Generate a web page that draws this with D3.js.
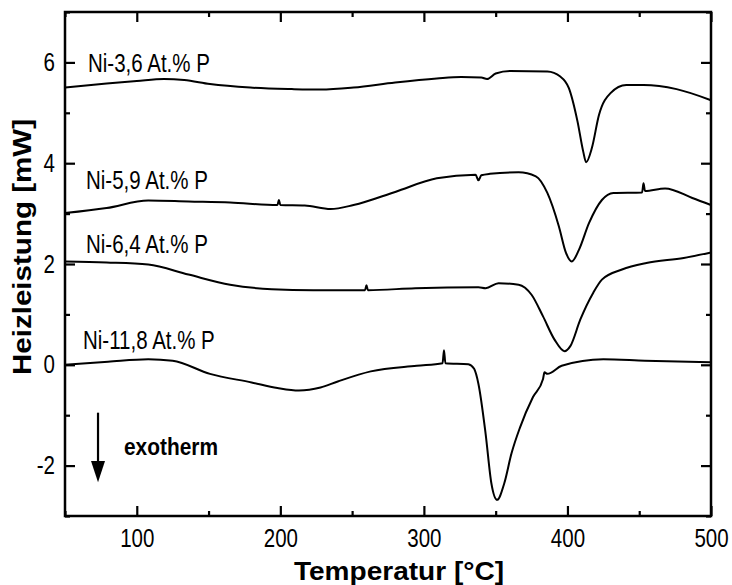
<!DOCTYPE html>
<html lang="de">
<head>
<meta charset="UTF-8">
<title>DSC</title>
<script src="https://d3js.org/d3.v7.min.js"></script>
<style>
  body { margin: 0; background: #fff; }
  svg text { font-family: "Liberation Sans", Arial, sans-serif; fill: #000; }
</style>
</head>
<body>
<div id="chart"></div>
<script>
// DSC-Kurven, [Temperatur °C, Heizleistung mW]
const ni36 = [[50,5.50],[79,5.58],[100,5.63],[119,5.67],[133,5.65],[151,5.57],[179,5.50],[208,5.47],[228,5.46],[251,5.50],[280,5.60],[309,5.68],[326,5.71],[340,5.70],[344,5.67],[350,5.78],[360,5.83],[386,5.82],[395,5.72],[401,5.49],[407,4.83],[411,4.23],[413,4.02],[417,4.30],[422,4.96],[430,5.39],[441,5.55],[453,5.55],[476,5.47],[500,5.25]];
const ni59 = [[50,3.01],[79,3.11],[108,3.26],[136,3.24],[165,3.22],[198,3.17],[199,3.27],[200,3.17],[217,3.16],[235,3.09],[251,3.17],[280,3.43],[309,3.70],[336,3.77],[338,3.66],[340,3.76],[346,3.79],[366,3.82],[378,3.74],[386,3.41],[394,2.75],[399,2.22],[403,2.05],[408,2.28],[415,2.81],[424,3.27],[432,3.41],[452,3.42],[453,3.60],[454,3.45],[468,3.50],[487,3.31],[500,3.17]];
const ni64 = [[50,2.05],[79,2.03],[108,1.99],[136,1.79],[165,1.59],[194,1.50],[223,1.48],[259,1.48],[260,1.58],[261,1.48],[294,1.52],[338,1.54],[343,1.52],[352,1.62],[366,1.59],[375,1.39],[383,0.96],[391,0.50],[398,0.27],[402,0.37],[409,0.90],[418,1.43],[424,1.69],[438,1.89],[455,2.02],[481,2.12],[500,2.23]];
const ni118 = [[50,0.00],[80,0.06],[108,0.11],[125,0.08],[151,-0.18],[180,-0.35],[198,-0.46],[213,-0.51],[228,-0.45],[240,-0.33],[263,-0.13],[295,-0.02],[313,0.03],[314,0.29],[315,0.03],[331,0.01],[335,-0.08],[338,-0.38],[343,-1.37],[347,-2.35],[351,-2.68],[356,-2.35],[361,-1.76],[367,-1.24],[376,-0.64],[383,-0.28],[384,-0.15],[386,-0.18],[396,-0.02],[425,0.11],[454,0.08],[500,0.05]];

const series = [ni36, ni59, ni64, ni118];
const seriesNames = ["Ni-3,6 At.% P", "Ni-5,9 At.% P", "Ni-6,4 At.% P", "Ni-11,8 At.% P"];
const xMajor = [100, 200, 300, 400, 500];
const xMinor = [50, 150, 250, 350, 450];
const yMajor = [-2, 0, 2, 4, 6];
const yMinor = [-3, -1, 1, 3, 5, 7];

const W = 732, H = 585;
const pLeft = 65, pRight = 711, pTop = 12, pBottom = 516;

const svg = d3.select("#chart").append("svg")
  .attr("width", W).attr("height", H);

const x = d3.scaleLinear().domain([50, 500]).range([pLeft, pRight]);
const y = d3.scaleLinear().domain([-3, 7]).range([pBottom, pTop]);

// curves
const line = d3.line()
  .x(d => x(d[0]))
  .y(d => y(d[1]))
  .curve(d3.curveMonotoneX);

svg.selectAll("path.curve")
  .data(series)
  .join("path")
  .attr("class", "curve")
  .attr("fill", "none")
  .attr("stroke", "#000")
  .attr("stroke-width", 2)
  .attr("stroke-linejoin", "round")
  .attr("d", line);

// axes (ticks inward)
function styleAxis(g) {
  g.select(".domain").remove();
  g.selectAll(".tick line").attr("stroke", "#000").attr("stroke-width", 2.2);
  g.selectAll(".tick text").attr("class", "narrow").style("font-size", "25px");
}
const plain = d => String(d);  // hyphen minus like the original

svg.append("g").attr("transform", `translate(0,${pBottom})`)
  .call(d3.axisBottom(x).tickValues(xMajor).tickSize(-10).tickPadding(13).tickFormat(plain))
  .call(styleAxis);
svg.append("g").attr("transform", `translate(0,${pBottom})`)
  .call(d3.axisBottom(x).tickValues(xMinor).tickSize(-5).tickFormat(""))
  .call(styleAxis);
svg.append("g").attr("transform", `translate(0,${pTop})`)
  .call(d3.axisTop(x).tickValues(xMajor).tickSize(-10).tickFormat(""))
  .call(styleAxis);
svg.append("g").attr("transform", `translate(0,${pTop})`)
  .call(d3.axisTop(x).tickValues(xMinor).tickSize(-5).tickFormat(""))
  .call(styleAxis);

svg.append("g").attr("transform", `translate(${pLeft},0)`)
  .call(d3.axisLeft(y).tickValues(yMajor).tickSize(-10).tickPadding(10).tickFormat(plain))
  .call(styleAxis);
svg.append("g").attr("transform", `translate(${pLeft},0)`)
  .call(d3.axisLeft(y).tickValues(yMinor).tickSize(-5).tickFormat(""))
  .call(styleAxis);
svg.append("g").attr("transform", `translate(${pRight},0)`)
  .call(d3.axisRight(y).tickValues(yMajor).tickSize(-10).tickFormat(""))
  .call(styleAxis);
svg.append("g").attr("transform", `translate(${pRight},0)`)
  .call(d3.axisRight(y).tickValues(yMinor).tickSize(-5).tickFormat(""))
  .call(styleAxis);

// frame
svg.append("rect")
  .attr("x", pLeft).attr("y", pTop)
  .attr("width", pRight - pLeft).attr("height", pBottom - pTop)
  .attr("fill", "none").attr("stroke", "#000").attr("stroke-width", 2.5);

// curve labels
const labelPos = [[88, 72], [86, 189], [86, 253], [83, 349]];
svg.selectAll("text.lbl")
  .data(seriesNames)
  .join("text")
  .attr("class", "lbl narrow")
  .attr("x", (d, i) => labelPos[i][0])
  .attr("y", (d, i) => labelPos[i][1])
  .style("font-size", "25px")
  .text(d => d);

// exotherm arrow
const ax = x(73);
svg.append("line")
  .attr("x1", ax).attr("x2", ax)
  .attr("y1", y(-0.95)).attr("y2", y(-1.95))
  .attr("stroke", "#000").attr("stroke-width", 2.2);
svg.append("path")
  .attr("d", `M${ax - 7},${y(-1.95) - 2}L${ax + 7},${y(-1.95) - 2}L${ax},${y(-2.33)}Z`)
  .attr("fill", "#000");
svg.append("text")
  .attr("x", 124).attr("y", 455)
  .attr("textLength", 94).attr("lengthAdjust", "spacingAndGlyphs")
  .style("font-size", "23px").style("font-weight", "bold")
  .text("exotherm");

// axis titles
svg.append("text")
  .attr("x", 399).attr("y", 580)
  .attr("text-anchor", "middle")
  .attr("textLength", 210).attr("lengthAdjust", "spacingAndGlyphs")
  .style("font-size", "25px").style("font-weight", "bold")
  .text("Temperatur [°C]");
svg.append("text")
  .attr("transform", `translate(31,247) rotate(-90)`)
  .attr("text-anchor", "middle")
  .attr("textLength", 256).attr("lengthAdjust", "spacingAndGlyphs")
  .style("font-size", "25px").style("font-weight", "bold")
  .text("Heizleistung [mW]");

// condensed look of the original lettering
svg.selectAll("text.narrow").each(function () {
  const len = this.getComputedTextLength();
  if (len > 0) d3.select(this).attr("textLength", len * 0.82).attr("lengthAdjust", "spacingAndGlyphs");
});
</script>
</body>
</html>
